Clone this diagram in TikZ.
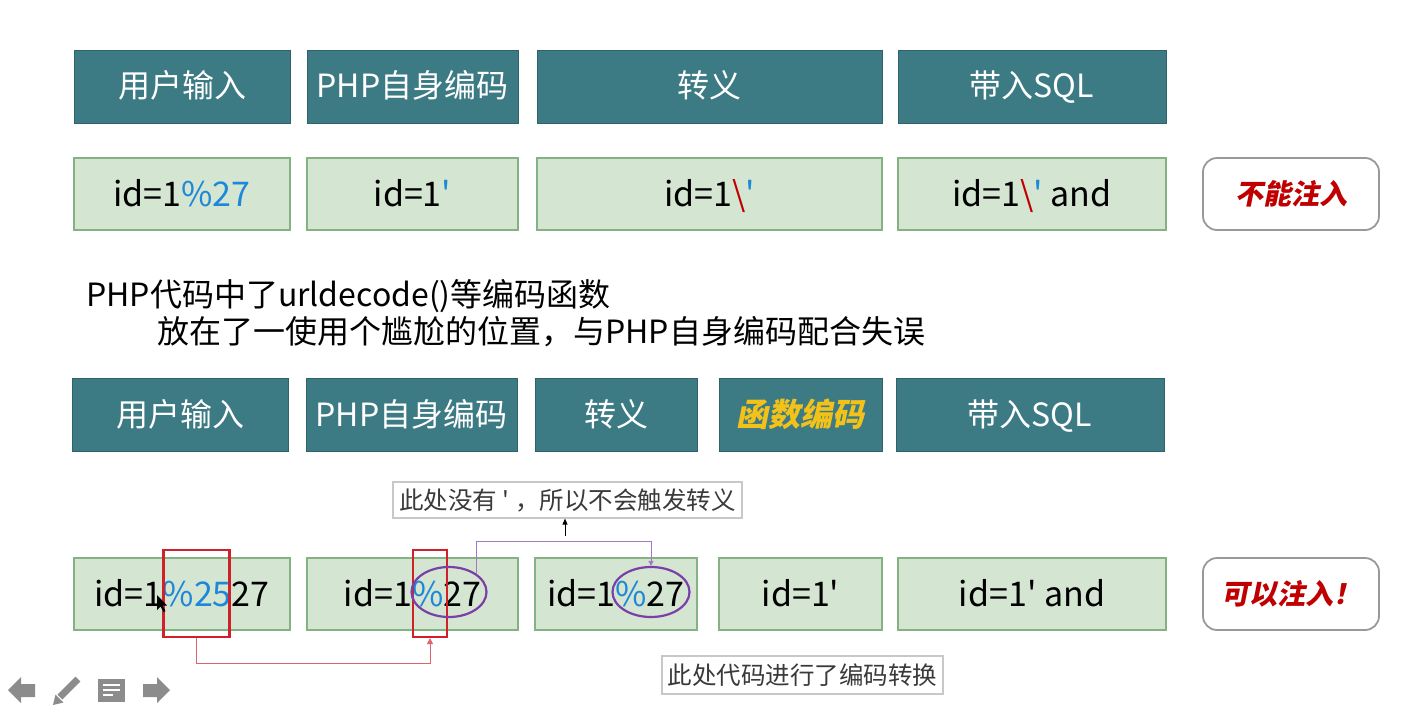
\documentclass[tikz,border=0pt]{standalone}
\usepackage{fontspec}
\setmainfont{Noto Sans CJK SC}[Ligatures=TeXOff]
\newfontfamily\emfont{Noto Sans CJK SC}[Ligatures=TeXOff,FakeSlant=0.2]
\usetikzlibrary{shapes.geometric,arrows.meta}
\definecolor{teal}{HTML}{3C7A84}
\definecolor{gfill}{HTML}{D4E5D2}
\definecolor{gline}{HTML}{84B282}
\definecolor{tblue}{HTML}{1E88D8}
\definecolor{tred}{HTML}{C00000}
\definecolor{tyellow}{HTML}{F2C21B}
\definecolor{pline}{HTML}{7A3FA8}
\definecolor{rline}{HTML}{D0202A}
\definecolor{navgray}{HTML}{8C8C8C}
\definecolor{cline}{HTML}{C8C8C8}
\definecolor{ctext}{HTML}{3A3A3A}
\newcommand{\bl}[1]{\textcolor{tblue}{#1}}
\newcommand{\rd}[1]{\textcolor{tred}{#1}}
\tikzset{
  hdr/.style={fill=teal, draw=teal!80!black, line width=0.8pt, text=white, minimum height=73pt, inner sep=0pt, text height=25pt, text depth=3pt, font=\fontsize{32}{38}\selectfont},
  grn/.style={fill=gfill, draw=gline, line width=1.6pt, minimum height=72pt, inner sep=0pt, text height=27.5pt, text depth=2.5pt, font=\fontsize{34}{40}\selectfont},
  res/.style={draw=gray!80, line width=1.8pt, rounded corners=14pt, fill=white, minimum width=176pt, minimum height=72pt, inner sep=0pt, font=\emfont\bfseries\fontsize{28}{33}\selectfont, text=tred},
  callout/.style={draw=cline, line width=1.2pt, fill=white, inner sep=0pt, text=ctext, font=\fontsize{24.5}{29}\selectfont},
  redbox/.style={draw=rline, line width=2.2pt},
  purp/.style={draw=pline, line width=2.2pt, ellipse, inner sep=0pt},
  pconn/.style={draw=pline!70, line width=1pt},
  rconn/.style={draw=rline!70, line width=1pt},
  nav/.style={fill=navgray, draw=none}
}
\begin{document}
\begin{tikzpicture}[x=1pt,y=-1pt]
\useasboundingbox[fill=white] (0,0) rectangle (1415,707);
% row 1
\node[hdr, minimum width=216pt] (h1) at (182,86.5) {用户输入};
\node[hdr, minimum width=211pt] (h2) at (412.5,86.5) {PHP自身编码};
\node[hdr, minimum width=345pt] (h3) at (709.5,86.5) {转义};
\node[hdr, minimum width=268pt] (h4) at (1032,86.5) {带入SQL};
% row 2
\node[grn, minimum width=216pt] (g1) at (182,194) {id=1\bl{\%27}};
\node[grn, minimum width=211pt] (g2) at (412.5,194) {id=1\bl{'}};
\node[grn, minimum width=345pt] (g3) at (709.5,194) {id=1\rd{\textbackslash}\bl{'}};
\node[grn, minimum width=268pt] (g4) at (1032,194) {id=1\rd{\textbackslash}\bl{'} and};
\node[res] (r1) at (1291,194) {不能注入};
% text lines
\node[anchor=west, inner sep=0pt, font=\fontsize{32}{38}\selectfont] (t1) at (86,296) {PHP代码中了urldecode()等编码函数};
\node[anchor=west, inner sep=0pt, font=\fontsize{32}{38}\selectfont] (t2) at (157,332) {放在了一使用个尴尬的位置，与PHP自身编码配合失误};
% row 3
\node[hdr, minimum width=216pt] (k1) at (180,415) {用户输入};
\node[hdr, minimum width=211pt] (k2) at (411.5,415) {PHP自身编码};
\node[hdr, minimum width=162pt] (k3) at (616,415) {转义};
\node[hdr, minimum width=163pt, text=tyellow, font=\emfont\bfseries\fontsize{32}{38}\selectfont] (k4) at (800.5,415) {函数编码};
\node[hdr, minimum width=268pt] (k5) at (1030,415) {带入SQL};
% row 4
\node[grn, minimum width=216pt] (m1) at (182,594) {id=1\bl{\%25}27};
\node[grn, minimum width=211pt] (m2) at (412.5,594) {id=1\bl{\%}27};
\node[grn, minimum width=162pt] (m3) at (616,594) {id=1\bl{\%}27};
\node[grn, minimum width=163pt] (m4) at (800.5,594) {id=1'};
\node[grn, minimum width=268pt] (m5) at (1032,594) {id=1' and};
\node[res] (r2) at (1291,594) {可以注入！};
% highlight marks
\node[redbox, minimum width=66pt, minimum height=87pt, inner sep=0pt] (b1) at (196.5,593.5) {};
\node[redbox, minimum width=34pt, minimum height=87pt, inner sep=0pt] (b2) at (430,593.5) {};
\node[purp, minimum width=75pt, minimum height=50pt] (e1) at (449,592) {};
\node[purp, minimum width=77pt, minimum height=50pt] (e2) at (651,592) {};
% callouts
\node[callout, minimum width=349pt, minimum height=36pt] (c1) at (567.5,500) {此处没有 ' ，所以不会触发转义};
\node[callout, minimum width=281pt, minimum height=38pt] (c2) at (802.5,675) {此处代码进行了编码转换};
% connectors
\coordinate (py) at (0,541);
\coordinate (ry) at (0,663);
\coordinate (ab) at (565,536);
\draw[pconn, -{Triangle[length=5pt,width=5pt]}] (e1.north east) -- (e1.north east |- py) -| (e2.north);
\draw[rconn, -{Triangle[length=6pt,width=6pt]}] (b1.south) -- (b1.south |- ry) -| (b2.south);
\draw[line width=0.8pt, -{Triangle[length=6pt,width=5pt]}] (ab) -- (ab |- c1.south);
% navigation icons
\fill[nav] (8,690) -- (21,677) -- (21,684) -- (35,684) -- (35,697) -- (21,697) -- (21,703) -- cycle;
\fill[nav] (170,690) -- (157,677) -- (157,684) -- (143,684) -- (143,697) -- (157,697) -- (157,703) -- cycle;
\draw[navgray, line width=7pt] (60,697) -- (78,679);
\fill[nav] (53,705) -- (55.5,694.5) -- (63.5,702.5) -- cycle;
\fill[nav] (98,679) rectangle (125,702);
\draw[white, line width=2pt] (103,685) -- (120,685) (103,690) -- (120,690) (103,695) -- (113,695);
% mouse pointer
\fill[black] (157,595) -- (157,610) -- (160.5,606.5) -- (163.5,612) -- (165.5,611) -- (162.5,605.5) -- (167,605.5) -- cycle;
\end{tikzpicture}
\end{document}
